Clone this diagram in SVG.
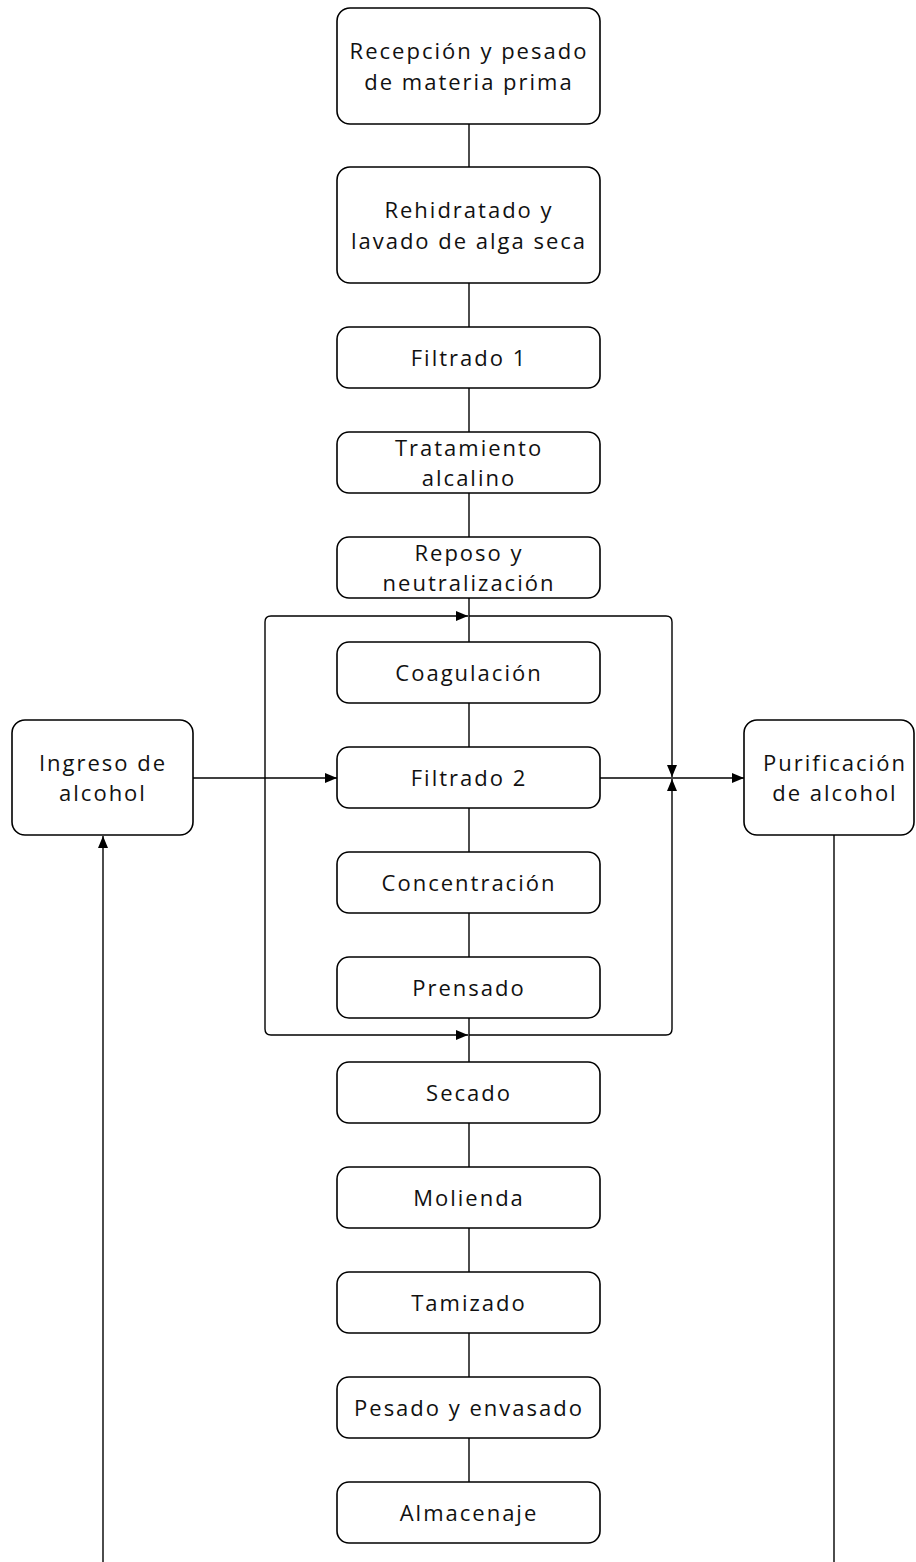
<svg xmlns="http://www.w3.org/2000/svg" width="916" height="1562" viewBox="0 0 916 1562">
  <style>
    .box { fill: #ffffff; stroke: #000000; stroke-width: 1.6; }
    .lbl { font-family: "Open Sans", "Noto Sans", "Liberation Sans", sans-serif; font-size: 22px; letter-spacing: 2px; fill: #111111; text-anchor: middle; }
    .wire { fill: none; stroke: #000000; stroke-width: 1.4; }
  </style>
  <defs>
    <marker id="arrow" markerUnits="userSpaceOnUse" markerWidth="12" markerHeight="10" refX="12" refY="5" orient="auto">
      <path d="M0,0 L12,5 L0,10 z" fill="#000000"/>
    </marker>
  </defs>
  <rect width="916" height="1562" fill="#ffffff"/>

  <!-- connectors -->
  <g id="connectors">
    <!-- main vertical chain -->
    <line class="wire" x1="469" y1="124" x2="469" y2="167"/>
    <line class="wire" x1="469" y1="283" x2="469" y2="327"/>
    <line class="wire" x1="469" y1="388" x2="469" y2="432"/>
    <line class="wire" x1="469" y1="493" x2="469" y2="537"/>
    <line class="wire" x1="469" y1="598" x2="469" y2="642"/>
    <line class="wire" x1="469" y1="703" x2="469" y2="747"/>
    <line class="wire" x1="469" y1="808" x2="469" y2="852"/>
    <line class="wire" x1="469" y1="913" x2="469" y2="957"/>
    <line class="wire" x1="469" y1="1018" x2="469" y2="1062"/>
    <line class="wire" x1="469" y1="1123" x2="469" y2="1167"/>
    <line class="wire" x1="469" y1="1228" x2="469" y2="1272"/>
    <line class="wire" x1="469" y1="1333" x2="469" y2="1377"/>
    <line class="wire" x1="469" y1="1438" x2="469" y2="1482"/>

    <!-- left loop: arrows into the top and bottom of the alcohol section -->
    <path class="wire" d="M265,778 V622 Q265,616 271,616 H468" marker-end="url(#arrow)"/>
    <path class="wire" d="M265,778 V1029 Q265,1035 271,1035 H468" marker-end="url(#arrow)"/>

    <!-- right loop: arrows down and up to the outlet line -->
    <path class="wire" d="M469,616 H666 Q672,616 672,622 V777" marker-end="url(#arrow)"/>
    <path class="wire" d="M469,1035 H666 Q672,1035 672,1029 V779" marker-end="url(#arrow)"/>

    <!-- alcohol in / out -->
    <line class="wire" x1="193" y1="778" x2="337" y2="778" marker-end="url(#arrow)"/>
    <line class="wire" x1="600" y1="778" x2="744" y2="778" marker-end="url(#arrow)"/>

    <!-- alcohol return -->
    <line class="wire" x1="834" y1="835" x2="834" y2="1562"/>
    <line class="wire" x1="103" y1="1562" x2="103" y2="836" marker-end="url(#arrow)"/>
  </g>

  <!-- process steps -->
  <g id="recepcion">
    <rect class="box" x="337" y="8" width="263" height="116" rx="13"/>
    <text class="lbl" x="469" y="59">Recepción y pesado</text>
    <text class="lbl" x="469" y="89.5">de materia prima</text>
  </g>
  <g id="rehidratado">
    <rect class="box" x="337" y="167" width="263" height="116" rx="13"/>
    <text class="lbl" x="469" y="218">Rehidratado y</text>
    <text class="lbl" x="469" y="248.5">lavado de alga seca</text>
  </g>
  <g id="filtrado1">
    <rect class="box" x="337" y="327" width="263" height="61" rx="12"/>
    <text class="lbl" x="469" y="365.5">Filtrado 1</text>
  </g>
  <g id="tratamiento">
    <rect class="box" x="337" y="432" width="263" height="61" rx="12"/>
    <text class="lbl" x="469" y="455.5">Tratamiento</text>
    <text class="lbl" x="469" y="486">alcalino</text>
  </g>
  <g id="reposo">
    <rect class="box" x="337" y="537" width="263" height="61" rx="12"/>
    <text class="lbl" x="469" y="560.5">Reposo y</text>
    <text class="lbl" x="469" y="591">neutralización</text>
  </g>
  <g id="coagulacion">
    <rect class="box" x="337" y="642" width="263" height="61" rx="12"/>
    <text class="lbl" x="469" y="680.5">Coagulación</text>
  </g>
  <g id="filtrado2">
    <rect class="box" x="337" y="747" width="263" height="61" rx="12"/>
    <text class="lbl" x="469" y="785.5">Filtrado 2</text>
  </g>
  <g id="concentracion">
    <rect class="box" x="337" y="852" width="263" height="61" rx="12"/>
    <text class="lbl" x="469" y="890.5">Concentración</text>
  </g>
  <g id="prensado">
    <rect class="box" x="337" y="957" width="263" height="61" rx="12"/>
    <text class="lbl" x="469" y="995.5">Prensado</text>
  </g>
  <g id="secado">
    <rect class="box" x="337" y="1062" width="263" height="61" rx="12"/>
    <text class="lbl" x="469" y="1100.5">Secado</text>
  </g>
  <g id="molienda">
    <rect class="box" x="337" y="1167" width="263" height="61" rx="12"/>
    <text class="lbl" x="469" y="1205.5">Molienda</text>
  </g>
  <g id="tamizado">
    <rect class="box" x="337" y="1272" width="263" height="61" rx="12"/>
    <text class="lbl" x="469" y="1310.5">Tamizado</text>
  </g>
  <g id="pesado">
    <rect class="box" x="337" y="1377" width="263" height="61" rx="12"/>
    <text class="lbl" x="469" y="1415.5">Pesado y envasado</text>
  </g>
  <g id="almacenaje">
    <rect class="box" x="337" y="1482" width="263" height="61" rx="12"/>
    <text class="lbl" x="469" y="1520.5">Almacenaje</text>
  </g>

  <!-- alcohol handling -->
  <g id="ingreso">
    <rect class="box" x="12" y="720" width="181" height="115" rx="13"/>
    <text class="lbl" x="103" y="770.5">Ingreso de</text>
    <text class="lbl" x="103" y="801">alcohol</text>
  </g>
  <g id="purificacion">
    <rect class="box" x="744" y="720" width="170" height="115" rx="13"/>
    <text class="lbl" x="835" y="770.5">Purificación</text>
    <text class="lbl" x="835" y="801">de alcohol</text>
  </g>
</svg>
